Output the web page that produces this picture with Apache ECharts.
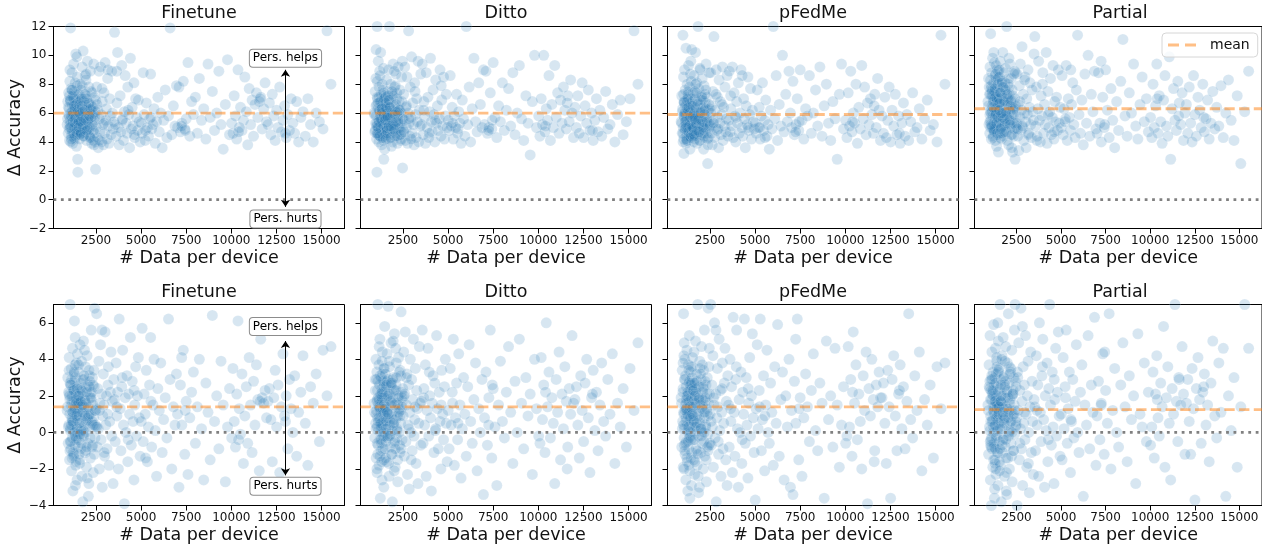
<!DOCTYPE html>
<html>
<head>
<meta charset="utf-8">
<script src="https://cdn.jsdelivr.net/npm/echarts@6/dist/echarts.min.js"></script>
<style>
  html, body { margin: 0; padding: 0; background: #fff; }
  #chart { width: 1262px; height: 546px; }
</style>
</head>
<body>
<div id="chart"></div>
<script>
// panel titles
const methods = ['Finetune', 'Ditto', 'pFedMe', 'Partial'];

// # data per device (same devices in every panel)
const dataPerDevice = [
  905, 940, 965, 990, 1005, 1020, 1040, 1055, 1070, 1085,
  1095, 1110, 1125, 1135, 1150, 1165, 1175, 1190, 1200, 1215,
  1225, 1240, 1250, 1265, 1275, 1290, 1300, 1315, 1325, 1340,
  1350, 1360, 1375, 1385, 1395, 1410, 1420, 1430, 1445, 1455,
  1465, 1475, 1490, 1498, 1060, 1145, 1230, 1310, 1390, 1460,
  1015, 1105, 1185, 1280, 1365, 1440, 1080, 1255, 1335, 1485,
  930, 975, 1012, 1048, 1078, 1118, 1158, 1196, 1222, 1262,
  1296, 1328, 1356, 1382, 1404, 1426, 1452, 1478, 1495, 1035,
  1130, 1208, 1286, 1345, 1415, 1468, 1065, 1170, 1320, 1438,
  1510, 1525, 1545, 1560, 1580, 1595, 1615, 1630, 1650, 1665,
  1685, 1700, 1720, 1735, 1755, 1770, 1790, 1810, 1825, 1845,
  1860, 1880, 1900, 1915, 1935, 1955, 1975, 1990, 2010, 2030,
  2050, 2070, 2090, 2110, 2130, 2150, 2175, 2195, 2215, 2240,
  2260, 2285, 2305, 2330, 2350, 2375, 2400, 2425, 2450, 2480,
  1540, 1605, 1675, 1745, 1800, 1870, 1945, 2020, 2100, 2165,
  2230, 2315, 2390, 2465, 1570, 1710, 1850, 1960, 2080, 2270,
  1520, 1588, 1640, 1695, 1730, 1780, 1815, 1890, 1925, 1980,
  2040, 2060, 2120, 2185, 2250, 2295, 2340, 2410, 2440, 2490,
  1555, 1625, 1760, 1835, 1905, 1995, 2140, 2205, 2360, 1660,
  2510, 2540, 2575, 2600, 2630, 2665, 2690, 2720, 2755, 2785,
  2815, 2850, 2880, 2910, 2945, 2980, 3010, 3045, 3080, 3115,
  3150, 3190, 3225, 3260, 3300, 3335, 3375, 3410, 3450, 3490,
  2560, 2700, 2835, 2960, 3170,
  3530, 3570, 3615, 3660, 3700, 3745, 3790, 3840, 3885, 3930,
  3980, 4025, 4075, 4120, 4170, 4220, 4265, 4315, 4365, 4410,
  4460, 4510, 4555, 4605, 4650, 4700, 4750, 4800, 4850, 4900,
  4950, 3650, 3960, 4290, 4620,
  5010, 5060, 5120, 5170, 5230, 5290, 5350, 5410, 5470, 5530,
  5590, 5660, 5720, 5790, 5860, 5930, 6010, 6090, 6170, 6250,
  6340, 6430, 6520, 6610, 6700, 6790, 6880, 6960, 5250, 5550,
  7020, 7100, 7180, 7260, 7340, 7420, 7500, 7600, 7700, 7800,
  7900, 8010, 8120, 8230, 8350, 8470, 8590, 8710, 8830, 8950,
  9070, 9190, 9310, 9430, 9550, 9670, 9790, 9900, 7250, 7450,
  10020, 10090, 10160, 10230, 10300, 10370, 10440, 10510, 10590, 10670,
  10750, 10830, 10910, 10990, 11070, 11150, 11230, 11310, 11390, 11470,
  11550, 11630, 11710, 11790, 11870, 11950, 10400, 11600,
  12030, 12110, 12190, 12270, 12350, 12430, 12510, 12590, 12680, 12770,
  12860, 12950, 13040, 13130, 13220, 13310, 13410, 13510, 13620, 13730,
  13850, 13970, 14100, 14240, 14390, 14540, 14700, 14880, 15080, 15300,
  15520, 13000
];

// ---- top row: Δ accuracy ----
const topFinetune = [
  5.2, 6.8, 4.6, 7.4, 5.9, 6.3, 4.1, 8.2, 5.5, 6.9,
  11.9, 5.0, 7.7, 4.4, 6.1, 5.7, 8.8, 4.8, 6.5, 3.9,
  7.1, 5.3, 6.0, 9.4, 4.5, 5.8, 7.5, 4.2, 6.6, 5.1,
  8.1, 6.2, 4.7, 10.1, 5.6, 7.0, 3.7, 6.4, 5.4, 7.9,
  4.9, 6.7, 2.8, 1.9, 9.0, 5.3, 7.2, 4.3, 6.0, 8.5,
  5.8, 4.0, 7.6, 6.3, 5.1, 9.9, 6.9, 4.6, 5.5, 7.3,
  5.6, 6.4, 4.9, 5.2, 6.8, 5.8, 4.6, 6.1, 5.4, 7.0,
  5.0, 6.3, 4.4, 5.7, 6.6, 5.1, 4.8, 6.0, 5.5, 7.2,
  4.2, 5.9, 6.5, 5.3, 4.7, 6.2, 5.0, 7.6, 5.6, 4.5,
  6.1, 4.8, 7.3, 5.5, 6.6, 4.2, 8.0, 5.9, 6.9, 4.6,
  7.6, 5.2, 6.3, 9.2, 4.9, 5.7, 10.3, 6.8, 4.4, 7.0,
  5.4, 6.0, 8.6, 4.7, 5.8, 7.2, 4.1, 6.4, 5.3, 9.6,
  6.7, 4.5, 5.6, 7.8, 5.0, 6.2, 4.3, 8.9, 5.7, 6.5,
  3.9, 7.4, 5.1, 6.0, 4.8, 9.4, 5.5, 7.1, 4.0, 2.1,
  5.9, 6.8, 4.6, 7.9, 5.2, 6.3, 8.3, 5.0, 6.6, 4.4,
  7.5, 5.8, 3.8, 6.1, 5.4, 7.0, 4.9, 8.7, 5.6, 6.2,
  5.3, 6.0, 4.7, 5.8, 6.5, 5.1, 4.4, 6.2, 5.6, 7.0,
  4.9, 5.4, 6.7, 4.3, 5.9, 5.2, 6.4, 4.6, 5.7, 6.9,
  5.0, 4.5, 6.1, 5.5, 7.3, 4.8, 5.8, 6.3, 4.1, 5.4,
  5.0, 7.8, 4.3, 6.2, 3.6, 8.9, 5.6, 4.7, 9.2, 5.9,
  4.0, 6.8, 5.2, 3.8, 7.4, 4.6, 9.5, 5.5, 6.3, 4.2,
  8.4, 5.1, 3.9, 7.0, 5.8, 4.5, 8.9, 6.0, 4.9, 5.4,
  6.6, 4.1, 7.7, 5.3, 9.0,
  11.6, 5.2, 4.4, 6.7, 10.2, 5.0, 3.8, 7.2, 4.7, 9.3,
  5.6, 4.1, 6.1, 8.6, 5.3, 4.6, 7.8, 5.9, 3.6, 9.8,
  4.9, 6.4, 5.1, 8.1, 4.3, 7.0, 5.7, 4.8, 6.9, 5.4,
  4.0, 8.9, 5.5, 6.2, 4.5,
  5.3, 4.6, 8.8, 5.9, 4.1, 6.7, 5.0, 4.4, 5.6, 8.7,
  4.9, 5.2, 6.3, 3.9, 5.4, 7.1, 4.7, 6.0, 3.6, 5.5,
  7.6, 4.3, 5.8, 11.9, 4.5, 6.5, 5.1, 7.9, 4.8, 5.7,
  5.0, 7.8, 4.7, 5.3, 8.2, 4.9, 5.6, 9.5, 4.4, 6.8,
  5.9, 7.1, 4.6, 8.4, 5.5, 6.3, 4.2, 9.4, 5.7, 7.5,
  4.8, 6.0, 8.9, 5.2, 3.5, 6.6, 9.7, 4.5, 5.1, 4.8,
  5.3, 4.6, 7.2, 5.8, 4.2, 9.0, 5.0, 6.4, 4.8, 5.5,
  8.5, 6.1, 3.8, 7.7, 5.2, 6.9, 4.4, 6.6, 7.4, 5.7,
  6.8, 7.1, 4.9, 6.3, 8.1, 5.4, 4.7, 7.0,
  5.2, 6.7, 4.5, 7.3, 5.8, 4.1, 6.2, 5.0, 7.8, 4.7,
  5.5, 6.5, 4.3, 5.9, 4.8, 7.0, 5.3, 4.6, 6.8, 4.0,
  5.7, 6.1, 4.4, 7.0, 5.2, 4.0, 6.0, 5.4, 4.9, 11.7,
  8.0, 4.6
];
const topDitto = [
  6.0, 4.7, 7.5, 5.3, 8.4, 5.8, 4.2, 6.6, 12.0, 5.1,
  7.0, 4.5, 6.3, 9.6, 5.5, 4.0, 7.8, 6.1, 5.0, 8.9,
  4.4, 6.8, 5.6, 10.2, 4.8, 7.3, 5.9, 3.8, 6.5, 5.2,
  8.0, 4.6, 6.2, 7.6, 5.4, 4.1, 9.1, 5.7, 6.9, 4.9,
  7.2, 5.3, 3.5, 6.4, 1.9, 5.0, 8.6, 4.3, 6.7, 5.8,
  10.4, 4.6, 7.1, 5.5, 6.0, 2.8, 8.2, 5.1, 6.3, 4.4,
  5.9, 4.8, 6.5, 5.3, 7.1, 5.0, 4.5, 6.2, 5.7, 6.8,
  4.9, 5.5, 6.0, 4.3, 5.2, 7.4, 5.8, 4.7, 6.4, 5.1,
  6.7, 4.4, 5.6, 6.1, 5.0, 7.0, 4.6, 5.4, 6.3, 5.9,
  5.6, 7.1, 4.5, 6.4, 5.0, 8.3, 4.8, 6.0, 7.5, 5.3,
  4.2, 9.0, 6.6, 5.1, 12.0, 4.6, 6.9, 5.7, 8.0, 4.3,
  6.2, 5.4, 7.3, 4.0, 5.9, 9.4, 4.7, 6.5, 5.2, 7.8,
  4.4, 6.1, 5.5, 8.7, 4.9, 7.0, 5.8, 3.9, 6.3, 9.2,
  5.0, 6.8, 4.5, 7.6, 5.3, 4.1, 6.0, 8.5, 5.6, 2.2,
  6.7, 4.8, 7.2, 5.1, 6.4, 3.7, 5.9, 8.9, 4.6, 7.4,
  5.4, 6.2, 4.2, 9.6, 5.7, 6.9, 4.9, 5.3, 7.9, 6.0,
  5.5, 6.3, 4.6, 5.1, 6.9, 5.7, 4.3, 6.0, 5.2, 7.2,
  4.8, 5.9, 6.6, 4.4, 5.3, 6.2, 5.0, 4.7, 6.8, 5.6,
  4.2, 5.8, 6.4, 5.1, 7.5, 4.9, 5.4, 6.1, 4.5, 5.7,
  4.8, 7.3, 5.5, 9.2, 4.1, 6.4, 5.0, 8.5, 3.9, 6.0,
  11.7, 5.3, 4.4, 7.8, 5.7, 9.9, 4.6, 6.7, 5.2, 3.8,
  8.1, 5.9, 4.3, 7.0, 5.4, 9.6, 4.0, 6.2, 5.1, 8.7,
  4.7, 6.5, 5.6, 4.2, 7.5,
  5.2, 9.4, 4.5, 6.8, 5.7, 3.9, 8.8, 5.0, 7.1, 4.3,
  6.1, 9.8, 5.4, 4.7, 7.6, 5.9, 4.0, 8.3, 5.3, 6.5,
  4.8, 5.6, 9.0, 4.4, 6.9, 5.1, 8.5, 4.2, 5.8, 7.3,
  5.0, 6.2, 4.6, 5.5, 7.9,
  5.5, 4.8, 8.6, 5.1, 6.4, 4.2, 5.8, 5.0, 7.3, 4.6,
  6.1, 5.3, 3.9, 6.9, 5.6, 4.4, 12.0, 5.2, 7.8, 4.0,
  6.3, 9.8, 5.4, 4.7, 8.1, 6.6, 5.0, 9.0, 5.3, 4.9,
  5.2, 8.9, 4.6, 5.0, 7.4, 4.9, 9.5, 5.7, 4.3, 6.5,
  5.4, 8.1, 4.8, 6.2, 7.7, 5.1, 8.8, 4.5, 6.0, 9.3,
  5.6, 4.1, 7.2, 5.3, 3.1, 6.8, 10.0, 5.0, 4.8, 5.5,
  5.8, 4.4, 7.0, 5.2, 10.0, 4.7, 6.3, 5.5, 8.6, 4.1,
  6.6, 5.0, 9.3, 5.7, 7.4, 4.6, 6.9, 5.3, 7.8, 6.2,
  4.9, 7.2, 5.4, 8.3, 6.0, 4.3, 5.1, 6.7,
  6.4, 5.0, 7.2, 4.6, 5.8, 8.1, 4.3, 6.5, 5.3, 7.6,
  4.8, 6.0, 4.1, 5.5, 7.0, 4.7, 6.2, 4.4, 5.7, 7.5,
  4.9, 5.2, 6.6, 4.0, 5.9, 6.9, 4.5, 5.4, 7.0, 11.7,
  8.0, 4.8
];
const topPFedMe = [
  5.4, 7.2, 4.6, 6.3, 11.4, 5.0, 8.5, 4.2, 6.7, 5.7,
  9.0, 4.8, 6.0, 7.6, 5.2, 3.9, 10.5, 5.9, 4.4, 6.9,
  5.5, 8.0, 4.1, 6.4, 5.1, 7.3, 4.7, 9.3, 5.8, 6.1,
  4.3, 7.8, 5.3, 6.6, 3.5, 5.6, 8.7, 4.9, 6.2, 5.0,
  7.0, 4.5, 10.4, 5.7, 3.2, 6.5, 4.8, 7.5, 5.4, 8.2,
  4.0, 6.0, 5.2, 7.1, 4.6, 9.6, 5.9, 6.8, 4.4, 5.5,
  5.3, 6.1, 4.6, 5.8, 6.7, 4.9, 5.5, 4.2, 6.3, 5.0,
  7.0, 4.7, 5.6, 6.0, 4.4, 5.2, 6.5, 5.9, 4.8, 7.3,
  5.4, 4.1, 6.2, 5.1, 5.7, 4.5, 6.8, 5.0, 6.4, 4.3,
  5.1, 6.8, 4.4, 7.4, 5.7, 4.9, 8.6, 6.0, 4.2, 7.0,
  5.5, 10.2, 4.6, 6.3, 5.2, 8.1, 3.9, 6.6, 5.8, 12.0,
  4.7, 7.7, 5.3, 6.1, 4.1, 9.0, 5.6, 6.9, 4.5, 7.2,
  5.0, 8.4, 4.8, 6.4, 5.4, 3.5, 7.9, 5.9, 4.3, 6.7,
  5.2, 9.4, 4.6, 7.1, 5.7, 2.5, 6.2, 4.9, 8.8, 5.3,
  6.5, 4.0, 7.5, 5.5, 4.7, 6.0, 9.1, 5.1, 6.9, 4.4,
  7.3, 5.6, 3.8, 6.3, 5.0, 8.0, 4.8, 6.6, 5.4, 7.6,
  5.0, 5.9, 4.4, 6.4, 5.3, 4.8, 6.8, 5.6, 4.1, 6.1,
  5.2, 7.1, 4.6, 5.7, 6.3, 4.9, 5.4, 4.3, 6.6, 5.1,
  5.8, 4.5, 7.4, 5.5, 4.7, 6.0, 5.0, 6.2, 4.2, 5.6,
  5.2, 8.8, 4.6, 6.5, 3.8, 7.5, 5.5, 11.3, 4.3, 6.2,
  5.0, 9.0, 4.8, 7.1, 5.7, 3.6, 8.3, 5.3, 6.8, 4.5,
  5.9, 9.2, 4.1, 6.4, 5.1, 7.8, 4.7, 5.6, 8.6, 4.4,
  6.0, 5.3, 7.3, 4.9, 6.6,
  5.5, 8.9, 4.7, 6.3, 5.1, 9.2, 4.3, 7.4, 5.8, 4.0,
  6.8, 5.3, 8.1, 4.6, 6.0, 9.0, 5.0, 4.4, 7.0, 5.6,
  3.6, 6.5, 5.2, 8.5, 4.8, 5.9, 7.7, 4.2, 6.2, 5.4,
  4.9, 7.2, 5.7, 8.6, 5.0,
  5.3, 4.6, 7.6, 5.0, 6.4, 4.2, 5.8, 8.1, 4.8, 5.5,
  6.9, 4.4, 5.2, 3.5, 6.2, 4.9, 12.0, 5.6, 8.6, 4.1,
  6.6, 5.1, 10.0, 4.7, 7.3, 5.4, 8.9, 6.0, 5.0, 4.3,
  5.0, 8.2, 4.5, 5.2, 7.0, 4.8, 9.0, 5.5, 4.2, 6.3,
  5.8, 8.6, 4.6, 6.0, 7.6, 5.1, 9.2, 4.4, 6.5, 8.0,
  5.3, 4.1, 6.8, 5.6, 2.8, 7.3, 9.4, 4.9, 4.7, 5.4,
  5.5, 4.3, 7.4, 5.1, 8.9, 4.7, 6.0, 5.3, 8.0, 3.9,
  6.4, 4.9, 9.3, 5.6, 7.8, 4.5, 6.7, 5.2, 7.0, 5.9,
  4.6, 7.3, 5.0, 8.4, 6.2, 4.1, 5.4, 6.5,
  5.8, 4.6, 7.1, 4.3, 5.5, 7.8, 4.0, 6.2, 5.1, 7.3,
  4.5, 5.8, 3.9, 5.3, 6.7, 4.4, 5.9, 4.1, 5.4, 7.4,
  4.7, 5.0, 6.3, 4.2, 5.6, 6.9, 4.8, 5.2, 4.0, 11.4,
  8.0, 4.6
];
const topPartial = [
  6.8, 8.4, 5.2, 7.3, 4.6, 9.2, 6.1, 11.5, 5.5, 7.9,
  4.2, 8.8, 6.5, 5.0, 7.6, 9.8, 5.8, 4.4, 6.9, 8.1,
  5.3, 7.0, 4.8, 9.5, 6.3, 5.6, 8.6, 4.1, 7.4, 6.0,
  5.1, 8.3, 6.7, 3.7, 7.8, 5.4, 9.0, 6.2, 4.5, 7.1,
  5.7, 8.9, 3.3, 6.6, 5.0, 7.5, 10.2, 4.9, 6.4, 8.0,
  5.9, 7.2, 4.3, 6.8, 9.3, 5.2, 7.7, 4.7, 6.1, 8.5,
  6.5, 7.8, 5.4, 8.3, 6.0, 5.1, 7.2, 6.8, 4.8, 7.5,
  5.8, 8.7, 6.3, 5.3, 7.0, 4.6, 6.6, 8.0, 5.6, 7.3,
  6.1, 4.9, 7.7, 5.9, 6.9, 8.4, 5.2, 6.4, 7.1, 5.7,
  7.0, 5.3, 8.5, 6.2, 4.6, 9.6, 5.8, 7.4, 4.2, 6.6,
  8.2, 5.1, 7.8, 10.2, 5.5, 6.9, 4.4, 8.8, 6.0, 5.2,
  7.5, 9.1, 4.8, 6.4, 5.7, 12.0, 7.1, 4.1, 6.7, 8.0,
  5.4, 3.8, 7.3, 6.1, 9.4, 5.0, 6.8, 4.5, 8.4, 5.9,
  7.6, 3.3, 6.3, 5.3, 8.7, 4.9, 7.0, 2.8, 6.5, 5.6,
  9.0, 4.3, 7.2, 6.0, 5.1, 8.1, 4.7, 6.6, 7.8, 5.5,
  3.6, 6.2, 8.9, 5.0, 7.4, 4.6, 6.8, 5.8, 9.8, 6.4,
  6.2, 7.4, 5.0, 8.1, 5.7, 6.8, 4.7, 7.6, 6.0, 5.3,
  7.0, 8.4, 5.5, 6.5, 4.5, 7.2, 5.9, 6.3, 8.8, 5.1,
  6.7, 4.9, 7.8, 5.6, 6.1, 7.3, 5.2, 6.9, 4.4, 6.0,
  5.3, 8.7, 4.4, 6.6, 3.4, 7.9, 5.7, 9.4, 4.8, 6.2,
  10.6, 5.0, 7.3, 4.1, 6.0, 8.5, 5.4, 3.6, 7.0, 5.9,
  9.0, 4.6, 6.4, 8.1, 5.2, 4.3, 7.6, 6.1, 5.5, 10.1,
  4.9, 6.8, 5.1, 8.3, 4.5,
  11.3, 5.1, 7.8, 4.4, 6.3, 9.6, 5.5, 4.0, 7.2, 5.8,
  8.8, 4.6, 6.6, 5.2, 10.2, 3.9, 7.5, 5.0, 6.1, 8.4,
  4.5, 5.7, 9.3, 4.2, 6.8, 5.4, 7.1, 4.8, 9.0, 5.3,
  6.4, 4.1, 8.0, 5.9, 4.7,
  5.0, 8.6, 4.5, 6.3, 5.4, 9.3, 4.1, 7.0, 5.7, 4.8,
  6.6, 8.1, 5.2, 4.3, 7.6, 11.4, 5.9, 4.6, 6.9, 3.8,
  8.7, 5.3, 10.0, 4.4, 7.3, 6.1, 8.9, 4.9, 5.6, 9.0,
  4.6, 8.8, 5.3, 4.0, 7.1, 5.0, 9.0, 6.2, 4.3, 7.7,
  5.5, 3.6, 6.8, 4.8, 8.2, 11.1, 5.8, 4.4, 7.4, 6.0,
  9.4, 5.1, 4.2, 6.6, 8.5, 5.4, 7.0, 4.7, 9.6, 5.2,
  5.7, 4.3, 8.0, 5.0, 6.5, 9.4, 4.6, 7.2, 5.4, 3.9,
  6.9, 8.6, 5.1, 4.4, 9.9, 2.8, 6.3, 7.7, 5.5, 4.8,
  8.2, 6.7, 5.2, 7.4, 4.1, 6.0, 7.0, 5.8,
  6.6, 4.6, 7.8, 5.3, 4.0, 8.6, 5.9, 4.4, 7.1, 6.2,
  5.0, 8.0, 4.7, 5.6, 6.9, 4.2, 5.3, 7.5, 4.9, 6.4,
  5.1, 7.9, 4.3, 6.0, 8.3, 5.5, 4.1, 7.2, 2.5, 6.1,
  8.9, 5.7
];

// ---- bottom row: Δ accuracy ----
const bottomFinetune = [
  1.2, 3.0, -0.6, 2.2, 0.4, 4.1, -1.5, 1.8, 7.0, 0.1,
  2.6, -0.9, 1.5, 3.5, -2.1, 0.8, 2.0, -0.3, 4.6, 1.1,
  -3.2, 2.4, 0.5, 1.7, -1.2, 3.2, 0.0, 2.8, -0.7, 1.4,
  5.2, 0.9, -1.8, 2.1, 1.6, -0.4, 3.8, 0.3, 2.5, -2.6,
  1.0, 4.3, -0.1, 1.9, -1.0, 2.9, 0.6, 6.1, -1.6, 1.3,
  3.4, -0.5, 0.7, 2.3, -2.9, 1.8, 0.2, -1.3, 3.7, 1.1,
  1.4, 0.3, 2.1, 1.0, -0.5, 2.6, 1.7, 0.6, -1.1, 2.3,
  1.2, 0.0, 3.0, 1.8, -0.3, 0.9, 2.4, 1.5, -0.8, 2.0,
  0.4, 1.1, 3.3, -0.2, 1.6, 0.7, 2.7, -1.4, 1.3, 0.2,
  2.0, -0.4, 3.3, 0.9, 1.6, -1.7, 4.8, 0.2, 2.7, -0.9,
  1.4, 3.9, -2.4, 0.6, 2.2, -3.8, 1.1, 5.0, -0.2, 2.9,
  0.4, 1.7, -1.1, 3.6, 0.0, 2.4, -1.9, 1.3, 4.2, 0.7,
  -0.6, 2.6, 1.0, -2.8, 3.1, 0.3, 1.9, -1.4, 2.1, 5.6,
  0.5, -0.8, 3.0, 1.5, -2.2, 0.8, 2.5, 6.8, -0.3, 1.2,
  3.7, -1.5, 0.1, 2.0, -0.1, 4.5, 1.6, -2.5, 0.9, 2.8,
  1.8, -0.7, 3.4, 0.4, -1.2, 2.3, 1.4, 0.6, -3.5, 2.2,
  1.6, 0.5, 2.4, -0.6, 1.1, 2.9, 0.1, 1.8, -1.0, 2.2,
  0.8, 1.4, 3.4, -0.3, 1.9, 0.6, 2.6, -1.2, 1.2, 0.3,
  2.0, -0.1, 1.5, 3.1, 0.9, -0.8, 2.5, 1.0, 0.4, 1.7,
  1.3, 6.5, -0.8, 2.4, 0.2, 3.9, -2.0, 1.6, 4.8, -0.4,
  2.1, -3.0, 0.9, 3.2, 1.5, -1.3, 5.5, 0.4, 2.0, -0.9,
  1.0, 3.6, -1.8, 0.6, 2.2, 4.4, -0.2, 1.7, -2.8, 2.9,
  0.3, 1.2, 5.6, -1.1, 2.6,
  1.8, -0.5, 3.8, 0.9, 2.2, -2.0, 6.2, 1.3, -1.0, 2.5,
  4.5, 0.4, -3.9, 1.9, 0.0, 3.1, -1.6, 2.1, 1.0, 5.2,
  -0.7, 2.8, 0.6, -2.6, 1.5, 3.6, -0.2, 2.0, 4.1, 0.8,
  -1.3, 1.4, 3.0, -0.4, 2.3,
  0.6, 5.7, -0.5, 2.1, 1.0, 3.4, -1.6, 0.3, 2.6, 5.2,
  -0.8, 1.5, 4.0, 0.1, -2.4, 2.4, 1.2, 3.8, -1.1, 0.7,
  1.9, -0.3, 6.2, 2.9, -2.0, 1.4, 0.4, 3.2, -1.4, 1.7,
  1.0, -3.0, 2.6, 0.4, 4.5, -1.2, 1.7, -2.3, 0.8, 2.2,
  3.3, -0.6, 1.4, 4.0, 0.2, -2.6, 2.7, 1.1, -1.5, 6.4,
  0.6, 2.0, -0.9, 3.9, 1.5, -2.7, 0.3, 2.4, 4.1, 1.2,
  -0.3, 3.5, 0.6, -0.8, 2.1, 6.1, 1.3, -0.1, 3.2, -1.7,
  0.9, 2.5, -0.6, 4.1, 1.5, -1.1, 2.8, 0.4, 3.7, 1.8,
  -2.1, 5.1, 1.9, 1.6, 2.3, 0.8, -0.4, 1.7,
  1.7, 2.4, 0.7, -1.6, 1.9, 3.4, 0.3, 2.6, -2.2, 1.4,
  4.3, 0.9, 2.0, -0.9, 2.9, 1.3, 0.0, 3.1, -1.3, 1.1,
  2.2, 4.2, 0.5, -1.8, 2.5, 1.6, 3.2, -0.5, 4.5, 2.0,
  4.7, 0.6
];
const bottomDitto = [
  1.6, -0.3, 2.9, 0.5, 4.0, -1.4, 1.2, 3.3, -2.2, 0.8,
  2.3, 7.0, -0.7, 1.9, 0.1, 3.7, -1.8, 1.4, 2.6, -0.4,
  5.1, 0.7, -3.6, 2.0, 1.1, -1.0, 3.0, 0.3, 2.4, -2.6,
  1.7, 4.4, 0.0, -0.9, 2.8, 1.3, 0.6, 3.5, -1.5, 1.9,
  -0.2, 2.2, 5.8, 0.9, -2.0, 1.5, 3.1, -0.6, 0.4, 2.7,
  1.0, -1.2, 4.7, 0.2, 2.1, -3.0, 1.8, 0.5, 3.9, 1.2,
  1.1, 2.3, 0.2, 1.7, -0.6, 2.8, 0.8, 1.4, -1.3, 2.1,
  0.5, 1.9, 3.2, -0.2, 1.2, 2.5, 0.0, 1.6, -0.9, 2.9,
  0.6, 1.3, -0.4, 2.2, 1.0, 3.5, 0.3, 1.8, -1.6, 1.5,
  1.4, 3.2, -0.5, 2.5, 0.8, -1.6, 4.3, 1.1, -0.2, 2.9,
  6.9, 0.3, 1.8, -2.4, 3.6, 0.6, 2.1, -0.8, 1.5, 4.9,
  -1.2, 2.7, 0.1, -3.8, 1.9, 3.0, 0.4, -0.6, 2.3, 5.4,
  1.2, -1.9, 0.7, 2.6, 3.8, -0.3, 1.6, 0.9, -2.7, 2.0,
  4.1, 0.0, 1.3, -1.1, 3.4, 0.5, 6.6, 2.2, -0.4, 1.7,
  -1.4, 2.8, 0.8, 3.9, -0.1, 1.0, 2.4, -2.1, 4.6, 0.2,
  1.5, -0.7, 3.1, 1.9, 0.6, -1.7, 2.6, 5.0, -0.9, 1.1,
  1.3, 2.6, -0.3, 1.0, 2.1, 0.4, 1.7, -1.2, 2.9, 0.7,
  1.5, -0.5, 2.3, 0.1, 1.9, 3.3, 0.9, -0.9, 1.4, 2.4,
  0.2, 1.1, -0.2, 2.7, 1.6, 0.5, 3.0, -1.5, 1.2, 2.0,
  0.9, 4.4, -1.3, 2.1, 5.5, -0.5, 1.5, 3.2, -2.3, 0.4,
  2.6, -3.1, 1.1, 4.0, 0.0, 2.9, -1.0, 1.8, 5.1, -0.2,
  0.7, 3.5, -1.7, 2.3, 1.3, -2.8, 0.5, 4.7, 1.6, -0.7,
  2.0, 3.0, 0.2, -1.5, 1.4,
  1.7, 5.6, -0.6, 2.4, 0.4, 3.7, -2.4, 1.2, 4.6, -0.2,
  2.0, 0.8, -3.2, 1.6, 3.1, -1.1, 2.7, 0.2, 5.3, 1.3,
  -0.9, 2.2, 0.6, -2.0, 3.4, 1.0, -0.4, 2.5, 4.0, 0.5,
  -1.6, 1.9, 3.3, 0.1, 1.5,
  1.2, -0.9, 3.5, 0.4, 2.2, 5.1, -1.8, 0.8, 2.7, -0.4,
  4.3, 1.5, -2.5, 0.2, 3.0, 1.0, -1.3, 2.5, 4.8, 0.6,
  -0.6, 1.8, 3.8, -2.1, 1.3, 0.0, 2.9, -3.4, 1.6, 0.5,
  0.8, 3.3, -0.7, 1.9, 5.6, -1.4, 2.4, 0.3, -2.9, 1.5,
  3.9, 0.6, -0.3, 2.2, 4.7, 1.1, -1.7, 2.8, 0.0, 5.1,
  1.6, -0.9, 3.0, 0.9, 2.1, -2.3, 4.0, 1.3, 0.4, 2.6,
  -0.2, -0.6, 4.1, 0.7, 2.6, -1.1, 6.0, 1.4, 3.3, -0.3,
  1.9, 0.5, -2.8, 2.9, 1.1, 4.4, -1.5, 2.1, 0.2, 3.6,
  1.7, -0.8, 2.4, 1.0, 5.3, 1.6, 2.2, -2.0,
  1.8, 2.5, 0.4, -1.4, 3.1, 1.2, -0.5, 2.7, 4.0, 0.8,
  -2.2, 1.9, 3.4, 0.1, 2.2, -1.0, 1.5, 3.8, 0.6, -0.2,
  2.9, 1.0, 4.3, -1.7, 1.6, 0.3, 2.4, -0.8, 3.5, 1.2,
  4.9, 2.1
];
const bottomPFedMe = [
  1.9, -0.8, 3.4, 0.6, 2.2, -1.9, 6.5, 1.0, -0.3, 2.9,
  0.2, 4.0, -1.2, 1.5, 3.1, -2.6, 0.8, 2.5, -0.5, 1.3,
  4.5, -1.6, 0.4, 2.0, -3.2, 1.7, 3.7, 0.0, -0.9, 2.7,
  1.1, 5.3, -2.1, 0.7, 2.3, -0.2, 1.4, 3.3, -1.4, 0.9,
  2.6, -2.9, 1.8, 0.3, 4.2, -0.6, 1.2, 2.1, -3.6, 0.5,
  3.8, -1.0, 1.6, 0.1, 2.8, -0.4, 4.9, 1.0, -1.8, 2.4,
  1.6, 0.2, 2.4, 1.1, -0.7, 2.9, 0.6, 1.8, -1.4, 2.2,
  0.9, 3.4, -0.3, 1.4, 2.6, 0.0, 1.9, -1.1, 3.0, 0.4,
  1.2, 2.0, -0.5, 1.7, 0.8, 2.7, -2.0, 1.3, 0.3, 3.6,
  1.3, 3.6, -0.4, 2.3, 0.7, -1.5, 4.4, 1.8, -2.3, 0.3,
  2.7, 5.0, -0.9, 1.5, 3.2, 0.1, -1.8, 2.0, 7.0, 0.9,
  -0.2, 2.5, 1.2, -3.0, 3.9, 0.5, 1.7, -1.1, 2.9, 4.7,
  0.0, -0.6, 2.2, 1.4, -2.0, 3.4, 0.8, 5.6, -1.3, 1.9,
  0.4, 2.6, -2.7, 1.1, 3.0, -0.1, 6.8, 1.6, -0.7, 2.1,
  4.1, 0.6, -1.6, 2.4, 1.0, -3.3, 3.5, 0.2, 1.8, -0.5,
  2.8, 1.3, -1.0, 4.6, 0.9, 2.2, -2.4, 1.5, 3.7, 0.3,
  1.0, 2.3, -0.4, 1.6, 0.3, 2.8, -1.0, 1.9, 0.7, 3.2,
  -0.2, 1.3, 2.5, 0.0, 1.7, -1.5, 2.1, 0.9, 3.6, -0.6,
  1.4, 2.7, 0.5, -1.2, 1.8, 0.2, 2.4, 1.1, -0.8, 2.0,
  1.0, 7.0, -0.7, 2.6, 0.3, 4.2, -1.9, 1.5, 6.0, -0.3,
  2.1, -3.8, 0.8, 3.5, 1.4, -1.2, 5.1, 0.1, 2.3, -2.4,
  1.1, 3.8, -0.9, 0.5, 2.7, 4.6, -1.5, 1.7, -2.9, 3.1,
  0.6, 1.9, 5.6, -0.5, 2.4,
  1.5, -0.8, 4.0, 0.6, 2.5, -2.2, 6.3, 1.1, -1.3, 2.9,
  5.6, 0.2, -3.0, 1.8, 0.0, 3.3, -1.7, 2.2, 1.0, 6.2,
  -0.6, 3.0, 0.4, -2.5, 1.6, 4.1, -0.2, 2.0, 5.4, 0.8,
  -1.1, 1.3, 3.6, -0.4, 2.4,
  -3.7, 1.3, 4.8, 0.2, 2.3, 6.2, -1.0, 0.7, 3.1, -2.1,
  1.5, 4.5, 0.0, -0.6, 2.7, 1.1, -1.8, 3.6, 0.5, 5.9,
  -1.3, 1.8, 3.3, -2.6, 2.0, 0.3, 4.0, -3.0, 1.4, 0.9,
  1.2, -3.4, 2.8, 0.5, 6.2, -1.5, 1.9, -2.4, 0.8, 3.2,
  1.4, -0.5, 2.3, 4.3, 0.1, -1.0, 2.7, 1.6, -3.6, 5.0,
  0.7, 2.0, -0.8, 4.6, 1.5, -1.9, 0.4, 2.5, 5.1, 1.3,
  -0.6, -0.2, 4.7, 0.3, 2.9, -1.3, 5.5, 1.6, 3.7, -0.4,
  2.1, 0.6, -2.0, 3.1, 1.2, 4.4, -3.9, 2.4, 0.9, 4.0,
  1.8, -1.0, 2.6, 1.4, 3.3, 1.9, 2.2, -1.6,
  1.9, 2.7, 0.5, -1.7, 3.4, 1.4, -3.6, 2.9, 4.2, 0.9,
  -1.0, 2.1, 3.7, 0.2, 2.5, -0.9, 1.7, 6.5, 0.7, -0.3,
  3.1, 1.2, 4.4, -2.1, 1.8, 0.4, 2.6, -1.4, 3.6, 1.3,
  3.8, 2.3
];
const bottomPartial = [
  1.5, -1.2, 3.7, 0.3, 2.4, 5.3, -2.6, 0.9, -0.4, 2.9,
  -4.0, 1.8, 4.4, -0.9, 0.6, 2.2, -1.9, 3.3, 0.0, 1.2,
  5.9, -0.6, 2.6, -3.6, 1.0, 3.0, -1.5, 0.4, 4.6, 1.7,
  -2.3, 0.8, 2.0, -0.2, 3.9, 1.3, -1.1, 2.5, 0.2, 6.0,
  -2.9, 1.6, 0.5, 3.4, -0.7, 2.1, 1.1, -1.7, 4.1, 0.7,
  2.8, -0.3, 1.4, -3.1, 3.2, 0.1, 2.3, -0.8, 1.9, 5.0,
  1.2, 2.5, 0.1, 1.8, -0.8, 3.1, 0.7, 2.0, -1.5, 1.4,
  0.4, 2.7, -0.3, 1.6, 3.6, 0.9, -1.1, 2.2, 1.0, -0.5,
  2.9, 0.3, 1.7, -2.0, 1.3, 3.3, 0.6, 2.3, -0.9, 1.5,
  1.1, 3.5, -0.5, 2.4, 7.0, -1.8, 0.6, 2.9, -3.8, 1.6,
  4.2, 0.2, -1.1, 2.0, 5.2, -0.3, 1.3, 3.1, -2.4, 0.8,
  2.6, -0.8, 4.7, 1.4, -3.2, 0.4, 2.2, 3.8, -1.4, 1.0,
  6.5, 0.0, 2.7, -2.0, 1.8, 0.5, 3.3, -0.6, 1.2, 4.5,
  -2.7, 0.9, 2.1, -1.0, 3.0, 1.5, -0.1, 7.0, 0.3, 2.5,
  -1.6, 1.7, 4.0, -0.4, 0.7, 2.8, -2.2, 1.9, 3.6, 0.1,
  -1.3, 2.3, 5.6, 0.6, -0.9, 1.4, 3.9, -3.4, 1.1, 2.0,
  1.4, 0.2, 2.6, -0.7, 1.1, 3.0, 0.5, 1.9, -1.4, 2.3,
  0.8, -0.2, 1.6, 3.5, 0.0, 2.1, -1.0, 1.2, 2.8, 0.4,
  -2.1, 1.7, 0.9, 2.5, -0.4, 1.3, 3.2, 0.6, 1.0, 2.0,
  0.8, -4.0, 3.0, 1.2, 4.9, -1.5, 2.3, 0.2, 6.8, -0.9,
  1.7, -2.9, 3.6, 0.5, 2.6, -0.4, 5.3, 1.0, -1.9, 2.0,
  3.9, 0.0, -3.3, 1.4, 4.4, -1.1, 2.8, 0.6, -2.3, 1.8,
  3.3, -0.6, 5.8, 1.1, -1.7,
  1.4, -1.0, 4.2, 0.4, 2.6, -2.4, 6.0, 1.1, -0.5, 3.1,
  5.1, 0.7, -3.0, 2.0, 0.1, 3.8, -1.6, 2.4, 7.0, 1.5,
  -0.7, 3.3, 0.3, -2.8, 1.8, 4.6, -0.2, 2.2, 5.5, 0.9,
  -1.3, 1.2, 3.6, -0.4, 2.9,
  1.0, -1.5, 4.1, 0.2, 2.5, 5.6, -0.6, 1.3, 3.3, -2.2,
  0.6, 2.9, -0.3, 1.7, 4.8, 0.0, -1.1, 2.2, 3.7, -3.5,
  1.5, 0.4, 5.3, -0.9, 2.6, 1.1, 6.3, -1.8, 1.9, 0.7,
  0.9, 2.8, -0.4, 1.6, 4.3, -1.2, 2.3, 0.5, 6.5, -2.0,
  1.2, 3.5, 0.0, -0.8, 2.6, 4.9, 1.4, -1.6, 3.1, 0.7,
  2.0, -2.8, 5.4, 1.0, 0.3, 3.8, -0.5, 2.2, 1.5, 4.4,
  -0.7, 0.3, 3.3, -1.4, 2.1, 4.2, 0.8, -0.2, 2.7, 1.4,
  5.8, -1.9, 1.9, 3.6, 0.5, -2.6, 2.4, 1.0, 7.0, 1.7,
  -0.5, 2.9, 1.5, 4.7, 2.1, -1.2, 1.8, 3.0,
  1.6, 2.9, 0.6, -1.2, 3.5, 1.3, -3.7, 2.4, 4.1, 1.8,
  -0.6, 2.2, 3.2, 0.4, 1.5, -1.6, 2.7, 5.0, 0.9, -0.3,
  3.8, 1.1, 4.6, -3.5, 2.0, 0.1, 3.0, -1.9, 1.4, 7.0,
  4.6, 2.5
];

// mean Δ accuracy per panel
const topMeans = [6.0, 6.0, 5.9, 6.3];
const bottomMeans = [1.4, 1.4, 1.4, 1.25];

// axes
const xRange = [150, 16270];
const xTicks = [2500, 5000, 7500, 10000, 12500, 15000];
const topYRange = [-2, 12];
const topYTicks = [-2, 0, 2, 4, 6, 8, 10, 12];
const bottomYRange = [-4, 7];
const bottomYTicks = [-4, -2, 0, 2, 4, 6];

// "Pers. helps / hurts" annotation (only in Finetune panels)
const annotX = 13000;
const topArrow = [9, -0.5];
const topNotes = [9.8, -1.35];
const bottomArrow = [5, -2.35];
const bottomNotes = [5.8, -2.95];

const chart = echarts.init(document.getElementById('chart'));
const FONT = 'DejaVu Sans';
const MEAN_COLOR = 'rgba(255,127,14,0.5)';
const lefts = [53.5, 360.5, 667.5, 974.5];
const panelW = 291;
const rows = [
  { top: 26.5, height: 202, ys: [topFinetune, topDitto, topPFedMe, topPartial], means: topMeans,
    range: topYRange, ticks: topYTicks, arrow: topArrow, notes: topNotes, titleY: 13 },
  { top: 304.5, height: 201, ys: [bottomFinetune, bottomDitto, bottomPFedMe, bottomPartial], means: bottomMeans,
    range: bottomYRange, ticks: bottomYTicks, arrow: bottomArrow, notes: bottomNotes, titleY: 292 }
];

// matplotlib style minus sign, no thousands separator
const fmtTick = v => (v < 0 ? '\u2212' + Math.abs(v) : String(v));

const grid = [], xAxis = [], yAxis = [], series = [], graphic = [];

rows.forEach((row, r) => {
  methods.forEach((m, c) => {
    const idx = r * 4 + c;
    grid.push({
      left: lefts[c], top: row.top, width: panelW, height: row.height,
      show: true, borderColor: '#000', borderWidth: 1, backgroundColor: 'transparent'
    });
    xAxis.push({
      type: 'value', gridIndex: idx, min: xRange[0], max: xRange[1],
      splitLine: { show: false },
      axisLine: { show: true, onZero: false, lineStyle: { color: '#000', width: 1 } },
      axisTick: { show: true, length: 5, customValues: xTicks, lineStyle: { color: '#000' } },
      axisLabel: { customValues: xTicks, formatter: fmtTick, fontSize: 12, color: '#111', fontFamily: FONT, margin: 6 },
      name: '# Data per device', nameLocation: 'middle', nameGap: 21,
      nameTextStyle: { fontSize: 17.5, color: '#111', fontFamily: FONT }
    });
    yAxis.push({
      type: 'value', gridIndex: idx, min: row.range[0], max: row.range[1],
      splitLine: { show: false },
      axisLine: { show: true, onZero: false, lineStyle: { color: '#000', width: 1 } },
      axisTick: { show: true, length: 5, customValues: row.ticks, lineStyle: { color: '#000' } },
      axisLabel: { show: c === 0, customValues: row.ticks, formatter: fmtTick, fontSize: 12, color: '#111', fontFamily: FONT, margin: 7 },
      name: c === 0 ? 'Δ Accuracy' : '', nameLocation: 'middle', nameRotate: 90, nameGap: 27,
      nameTextStyle: { fontSize: 17.5, color: '#111', fontFamily: FONT }
    });

    const ys = row.ys[c];
    const pts = dataPerDevice.map((x, i) => [x, ys[i]]).filter(p => p[1] !== undefined);
    series.push({
      type: 'scatter', name: 'devices', xAxisIndex: idx, yAxisIndex: idx,
      data: pts, symbolSize: 11, silent: true, z: 2,
      itemStyle: { color: '#1f77b4', opacity: 0.18, borderColor: '#fff', borderWidth: 0.7 }
    });

    const zero = {
      type: 'line', name: 'zero', xAxisIndex: idx, yAxisIndex: idx, silent: true, z: 3,
      data: [[xRange[0], 0], [xRange[1], 0]], symbol: 'none',
      itemStyle: { color: '#808080' },
      lineStyle: { color: '#808080', width: 2.8, type: [2.8, 4.6], cap: 'butt' }
    };
    if (c === 0) {
      zero.markLine = {
        silent: true, symbol: ['arrow', 'arrow'], symbolSize: 7, animation: false,
        label: { show: false },
        lineStyle: { color: '#000', width: 1, type: 'solid' },
        data: [[{ coord: [annotX, row.arrow[0]] }, { coord: [annotX, row.arrow[1]] }]]
      };
      zero.markPoint = {
        silent: true, symbol: 'rect', symbolSize: 1, animation: false,
        itemStyle: { color: 'rgba(0,0,0,0)' },
        label: {
          show: true, position: 'inside', fontSize: 12, fontFamily: FONT, color: '#000',
          backgroundColor: '#fff', borderColor: '#8c8c8c', borderWidth: 1, borderRadius: 3,
          padding: [3, 3, 2, 3]
        },
        data: [
          { coord: [annotX, row.notes[0]], label: { formatter: 'Pers. helps' } },
          { coord: [annotX, row.notes[1]], label: { formatter: 'Pers. hurts' } }
        ]
      };
    }
    series.push(zero);

    series.push({
      type: 'line', name: 'mean', xAxisIndex: idx, yAxisIndex: idx, silent: true, z: 4,
      data: [[xRange[0], row.means[c]], [xRange[1], row.means[c]]], symbol: 'none',
      itemStyle: { color: MEAN_COLOR },
      lineStyle: { color: MEAN_COLOR, width: 2.8, type: [10.3, 4.4] }
    });

    graphic.push({
      type: 'text', x: lefts[c] + panelW / 2, y: row.titleY,
      style: {
        text: m, font: '17.5px "DejaVu Sans"', fill: '#111',
        textAlign: 'center', textVerticalAlign: 'middle', align: 'center', verticalAlign: 'middle'
      }
    });
  });
});

chart.setOption({
  animation: false,
  textStyle: { fontFamily: FONT },
  grid, xAxis, yAxis, series, graphic,
  legend: {
    data: [{ name: 'mean', icon: 'path://M0,0H11V3H0ZM17,0H28V3H17Z', itemStyle: { color: MEAN_COLOR } }],
    left: 1162, top: 33, selectedMode: false,
    itemWidth: 28, itemHeight: 3, padding: [5, 8, 5, 6],
    backgroundColor: 'rgba(255,255,255,0.8)', borderColor: '#d6d6d6', borderWidth: 1, borderRadius: 4,
    textStyle: { fontSize: 14, color: '#111', fontFamily: FONT, padding: [0, 0, 0, 9] }
  }
});
</script>
</body>
</html>
